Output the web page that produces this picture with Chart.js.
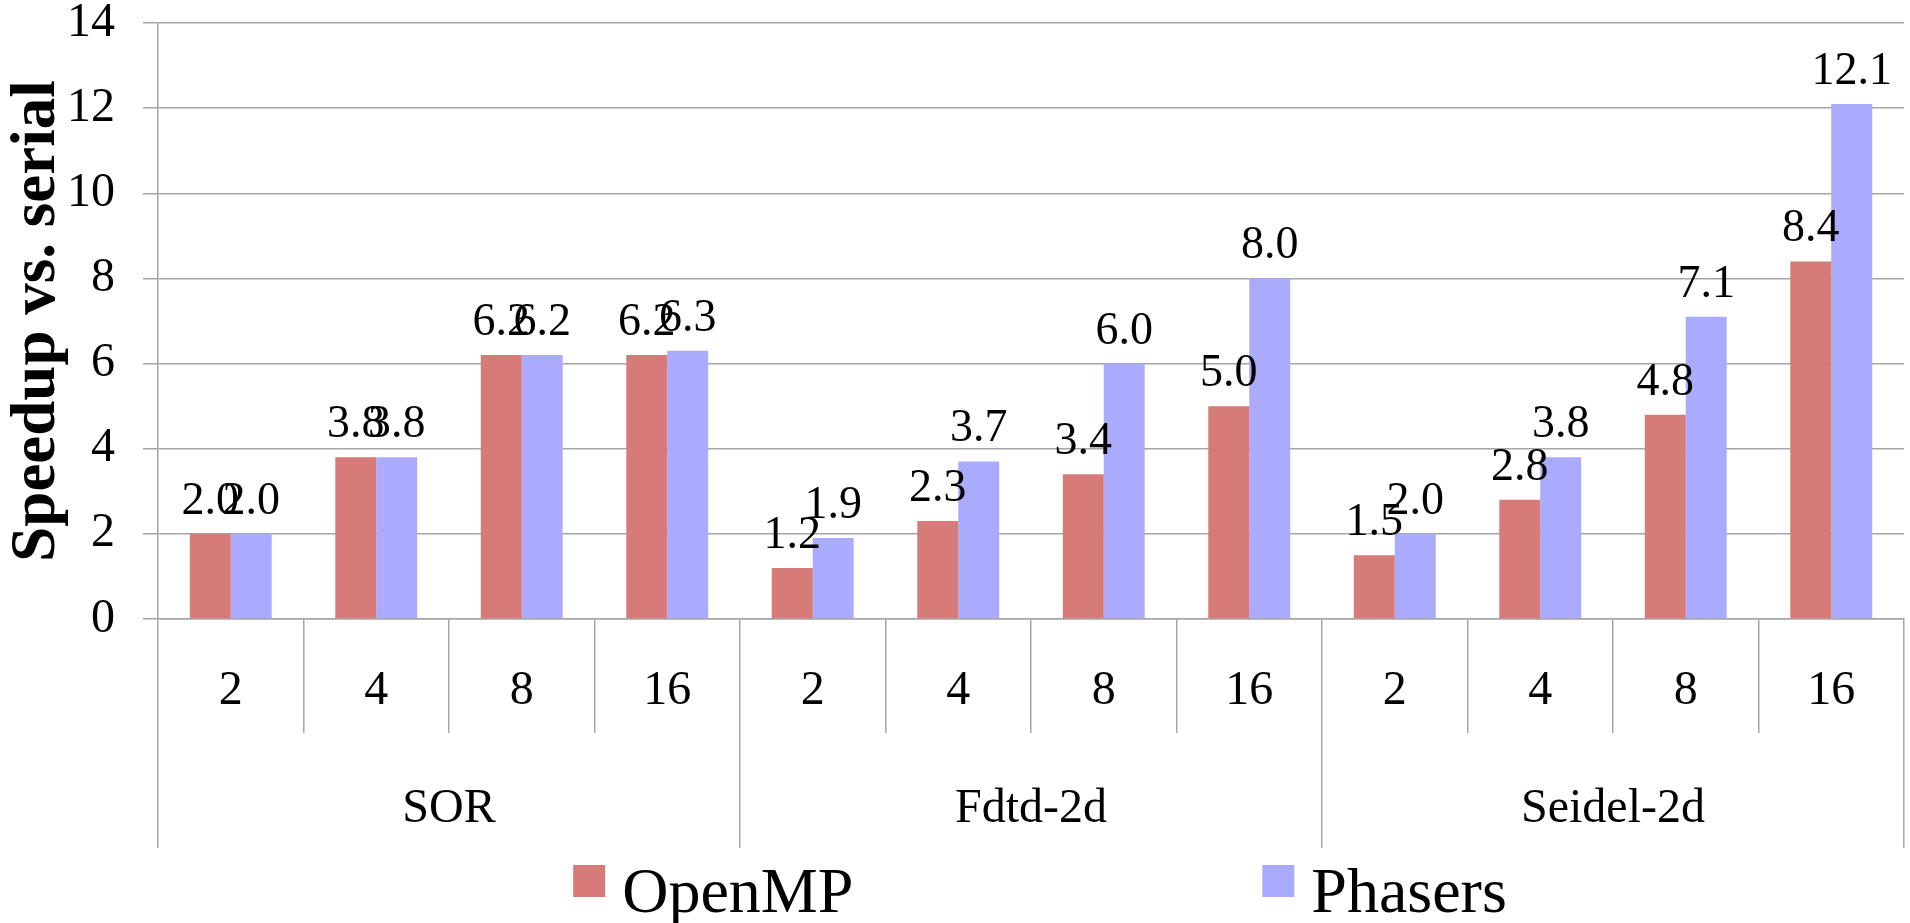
<!DOCTYPE html>
<html>
<head>
<meta charset="utf-8">
<title>Speedup vs. serial</title>
<script src="https://cdn.jsdelivr.net/npm/chart.js@4.4.0/dist/chart.umd.min.js"></script>
<style>
  html, body { margin: 0; padding: 0; background: #fff; }
  #wrap { width: 1910px; height: 923px; }
</style>
</head>
<body>
<div id="wrap"><canvas id="grafico"></canvas></div>
<script>
// Datos
const hilos = ['2', '4', '8', '16', '2', '4', '8', '16', '2', '4', '8', '16'];
const grupos = ['SOR', 'Fdtd-2d', 'Seidel-2d'];
const openmp = [2.0, 3.8, 6.2, 6.2, 1.2, 2.3, 3.4, 5.0, 1.5, 2.8, 4.8, 8.4];
const phasers = [2.0, 3.8, 6.2, 6.3, 1.9, 3.7, 6.0, 8.0, 2.0, 3.8, 7.1, 12.1];
const yMin = 0;
const yMax = 14;
const yPaso = 2;

const FUENTE = '"Liberation Serif", "Times New Roman", serif';
const GRIS = '#a6a6a6';

// Etiquetas con el valor encima de cada barra
const etiquetasValores = {
    id: 'etiquetasValores',
    afterDatasetsDraw(chart) {
        const ctx = chart.ctx;
        ctx.save();
        ctx.font = '46px ' + FUENTE;
        ctx.fillStyle = '#000';
        ctx.textAlign = 'center';
        ctx.textBaseline = 'alphabetic';
        chart.data.datasets.forEach(function (ds, i) {
            chart.getDatasetMeta(i).data.forEach(function (bar, j) {
                ctx.fillText(ds.data[j].toFixed(1), bar.x, bar.y - 20);
            });
        });
        ctx.restore();
    }
};

// Leyenda propia (los elementos van muy separados)
const leyenda = {
    id: 'leyenda',
    afterDraw(chart) {
        const ctx = chart.ctx;
        const area = chart.chartArea;
        const base = chart.scales.x2.bottom;
        const caja = 32, sep = 17, hueco = 409;
        ctx.save();
        ctx.font = '64px ' + FUENTE;
        const items = chart.data.datasets.map(function (ds) {
            return {
                texto: ds.label,
                color: ds.backgroundColor,
                ancho: caja + sep + ctx.measureText(ds.label).width
            };
        });
        const total = items.reduce(function (s, it) { return s + it.ancho; }, 0) + hueco * (items.length - 1);
        let x = (area.left + area.right) / 2 + 9 - total / 2;
        items.forEach(function (it) {
            ctx.fillStyle = it.color;
            ctx.fillRect(x, base + 17, caja, caja);
            ctx.fillStyle = '#000';
            ctx.textBaseline = 'alphabetic';
            ctx.fillText(it.texto, x + caja + sep, base + 64);
            x += it.ancho + hueco;
        });
        ctx.restore();
    }
};

// quitar el margen que Chart.js reserva para las etiquetas de los extremos
function sinMargenes(scale) {
    scale.paddingTop = 0;
    scale.paddingBottom = 0;
    scale.paddingLeft = 0;
    scale.paddingRight = 0;
}

new Chart(document.getElementById('grafico'), {
    type: 'bar',
    data: {
        labels: hilos,
        datasets: [{
            label: 'OpenMP',
            data: openmp,
            backgroundColor: '#d77b79',
            categoryPercentage: 0.563,
            barPercentage: 1
        }, {
            label: 'Phasers',
            data: phasers,
            backgroundColor: '#aaaaff',
            categoryPercentage: 0.563,
            barPercentage: 1
        }]
    },
    options: {
        responsive: true,
        maintainAspectRatio: false,
        animation: false,
        layout: {
            autoPadding: false,
            padding: { top: 23, right: 6, bottom: 75, left: 0 }
        },
        scales: {
            x: {
                position: 'bottom',
                weight: 0,
                offset: true,
                afterFit: function (scale) { scale.height = 114; sinMargenes(scale); },
                grid: {
                    offset: true,
                    drawOnChartArea: false,
                    tickLength: 114,
                    color: GRIS,
                    lineWidth: 1.5
                },
                border: { display: true, color: GRIS, width: 1.5 },
                ticks: {
                    font: { family: FUENTE, size: 48 },
                    color: '#000',
                    padding: -70,
                    maxRotation: 0,
                    autoSkip: false
                }
            },
            x2: {
                type: 'category',
                labels: grupos,
                position: 'bottom',
                weight: 1,
                offset: true,
                afterFit: function (scale) { scale.height = 115; sinMargenes(scale); },
                grid: {
                    offset: true,
                    drawOnChartArea: false,
                    tickLength: 115,
                    color: GRIS,
                    lineWidth: 1.5
                },
                border: { display: false },
                ticks: {
                    font: { family: FUENTE, size: 48 },
                    color: '#000',
                    padding: -67,
                    maxRotation: 0,
                    autoSkip: false
                }
            },
            y: {
                min: yMin,
                max: yMax,
                afterFit: function (scale) { scale.width = 158; sinMargenes(scale); },
                ticks: {
                    stepSize: yPaso,
                    font: { family: FUENTE, size: 48 },
                    color: '#000',
                    padding: 28
                },
                grid: {
                    color: GRIS,
                    lineWidth: 1.5,
                    tickLength: 15
                },
                border: { display: true, color: GRIS, width: 1.5 },
                title: {
                    display: true,
                    text: 'Speedup vs. serial',
                    color: '#000',
                    font: { family: FUENTE, size: 63, weight: 'bold' },
                    padding: 0
                }
            }
        },
        plugins: {
            legend: { display: false },
            tooltip: { enabled: false }
        }
    },
    plugins: [etiquetasValores, leyenda]
});
</script>
</body>
</html>
